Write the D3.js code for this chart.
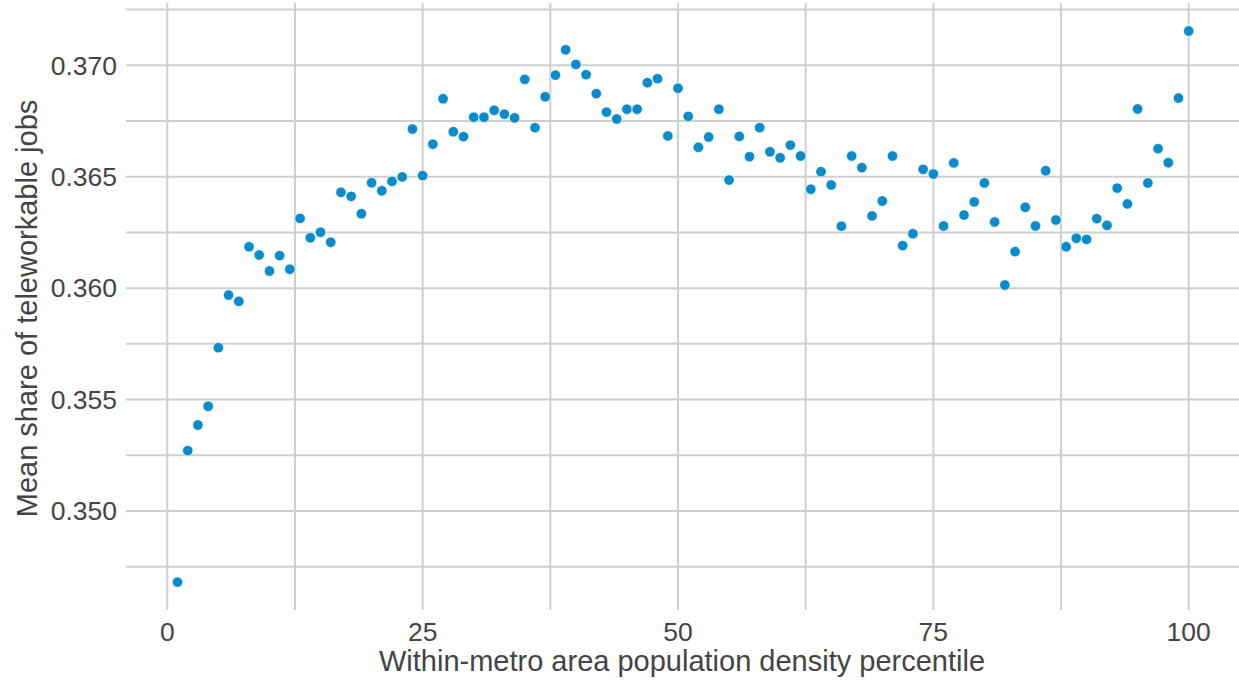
<!DOCTYPE html>
<html>
<head>
<meta charset="utf-8">
<script src="https://cdn.jsdelivr.net/npm/d3@7"></script>
<style>
  html, body { margin: 0; padding: 0; background: #ffffff; }
  svg { display: block; }
</style>
</head>
<body>
<svg id="chart" width="1239" height="681"></svg>
<script>
// Data: within-metro population density percentile (1..100) vs mean teleworkable share
const percentiles = d3.range(1, 101);
const teleworkShare = [
  0.34681, 0.35271, 0.35386, 0.35470, 0.35733, 0.35969, 0.35941, 0.36186, 0.36149, 0.36077,
  0.36146, 0.36085, 0.36313, 0.36226, 0.36251, 0.36206, 0.36430, 0.36412, 0.36334, 0.36473,
  0.36437, 0.36479, 0.36499, 0.36714, 0.36505, 0.36646, 0.36850, 0.36702, 0.36680, 0.36767,
  0.36767, 0.36798, 0.36781, 0.36764, 0.36937, 0.36720, 0.36859, 0.36956, 0.37070, 0.37004,
  0.36958, 0.36873, 0.36790, 0.36759, 0.36803, 0.36803, 0.36922, 0.36940, 0.36683, 0.36897,
  0.36771, 0.36632, 0.36678, 0.36803, 0.36485, 0.36681, 0.36590, 0.36720, 0.36612, 0.36585,
  0.36642, 0.36593, 0.36444, 0.36523, 0.36463, 0.36278, 0.36593, 0.36541, 0.36324, 0.36391,
  0.36593, 0.36191, 0.36244, 0.36533, 0.36512, 0.36279, 0.36562, 0.36328, 0.36387, 0.36472,
  0.36297, 0.36014, 0.36164, 0.36363, 0.36279, 0.36527, 0.36306, 0.36186, 0.36224, 0.36219,
  0.36312, 0.36282, 0.36449, 0.36378, 0.36804, 0.36472, 0.36626, 0.36563, 0.36853, 0.37154
];
const xMajorTicks = [0, 25, 50, 75, 100];
const xMinorTicks = [12.5, 37.5, 62.5, 87.5];
const yMajorTicks = [0.350, 0.355, 0.360, 0.365, 0.370];
const yMinorTicks = [0.3475, 0.3525, 0.3575, 0.3625, 0.3675, 0.3725];
const xLabel = "Within-metro area population density percentile";
const yLabel = "Mean share of teleworkable jobs";

const svg = d3.select("#chart");

// Scales calibrated to the reference layout
const x = d3.scaleLinear().domain([0, 100]).range([167.3, 1188.7]);
const y = d3.scaleLinear().domain([0.350, 0.370]).range([511, 65.3]);

const plotLeft = 126, plotRight = 1239, plotTop = 3, plotBottom = 610;

const gridColor = "#cfcfcf";
const grid = svg.append("g");

// horizontal grid lines
grid.selectAll("line.h")
  .data(yMajorTicks.concat(yMinorTicks))
  .join("line")
  .attr("x1", plotLeft).attr("x2", plotRight)
  .attr("y1", d => y(d)).attr("y2", d => y(d))
  .attr("stroke", gridColor)
  .attr("stroke-width", 2);

// vertical grid lines
grid.selectAll("line.v")
  .data(xMajorTicks.concat(xMinorTicks))
  .join("line")
  .attr("x1", d => x(d)).attr("x2", d => x(d))
  .attr("y1", plotTop).attr("y2", plotBottom)
  .attr("stroke", gridColor)
  .attr("stroke-width", 2);

const fontFamily = "'Liberation Sans', Arial, sans-serif";
const textColor = "#444444";

// y tick labels
svg.append("g").selectAll("text")
  .data(yMajorTicks)
  .join("text")
  .attr("x", 117)
  .attr("y", d => y(d))
  .attr("dy", "0.35em")
  .attr("text-anchor", "end")
  .attr("font-family", fontFamily)
  .attr("font-size", 26.5)
  .attr("fill", textColor)
  .text(d => d3.format(".3f")(d));

// x tick labels
svg.append("g").selectAll("text")
  .data(xMajorTicks)
  .join("text")
  .attr("x", d => x(d))
  .attr("y", 641)
  .attr("text-anchor", "middle")
  .attr("font-family", fontFamily)
  .attr("font-size", 26.5)
  .attr("fill", textColor)
  .text(d => d3.format("d")(d));

// axis labels
svg.append("text")
  .attr("x", 682)
  .attr("y", 671)
  .attr("text-anchor", "middle")
  .attr("font-family", fontFamily)
  .attr("font-size", 29)
  .attr("fill", textColor)
  .text(xLabel);

svg.append("text")
  .attr("transform", `translate(37, 308.5) rotate(-90)`)
  .attr("text-anchor", "middle")
  .attr("font-family", fontFamily)
  .attr("font-size", 29)
  .attr("fill", textColor)
  .text(yLabel);

// points
svg.append("g").selectAll("circle")
  .data(percentiles.map((p, i) => ({ p, v: teleworkShare[i] })))
  .join("circle")
  .attr("cx", d => x(d.p))
  .attr("cy", d => y(d.v))
  .attr("r", 5.2)
  .attr("fill", "#0a8bcb")
  .attr("stroke", "#ffffff")
  .attr("stroke-width", 0.6);
</script>
</body>
</html>
